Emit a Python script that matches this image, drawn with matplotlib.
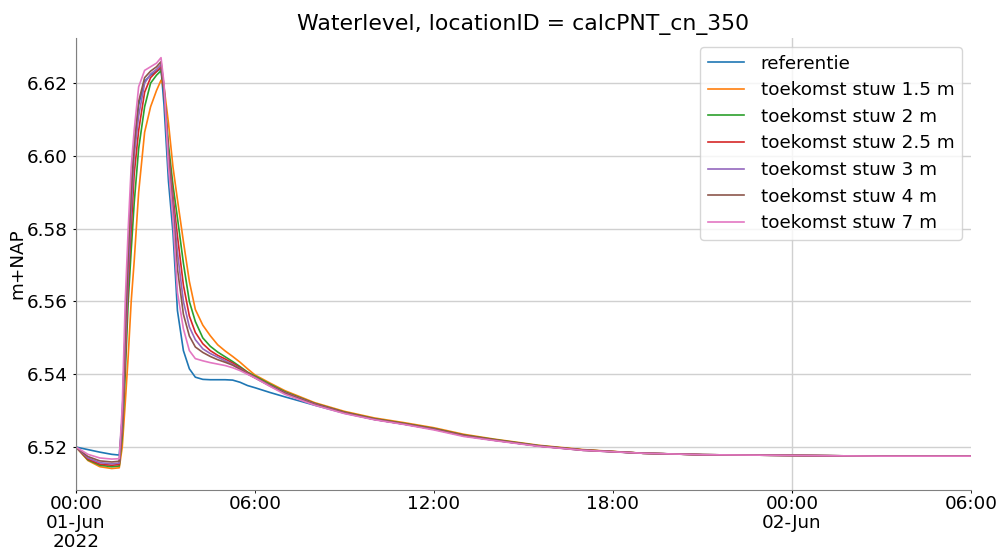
"""
Waterstand op calcPNT_cn_350: referentie vs toekomstige stuwvarianten.
"""
from datetime import datetime, timedelta

import matplotlib
matplotlib.use("Agg")
import matplotlib.pyplot as plt
import matplotlib.dates as mdates


# ============================================================
#  Data (uren sinds 2022-06-01 00:00, waterstand in m+NAP)
# ============================================================

hours = [0, 0.4, 0.8, 1.2, 1.45, 1.55, 1.65, 1.75, 1.85, 1.95, 2.1, 2.3, 2.5, 2.7,
         2.85, 2.95, 3.1, 3.25, 3.4, 3.6, 3.8, 4.0, 4.25, 4.5, 4.75, 5.0, 5.25, 5.5,
         5.75, 6.0, 6.5, 7.0, 8.0, 9.0, 10.0, 11.0, 12.0, 13.0, 14.0, 15.5, 17.0,
         19.0, 21.0, 24.0, 27.0, 30.0]

referentie = [6.5200, 6.5193, 6.5186, 6.5180, 6.5178, 6.5280, 6.5520, 6.5730, 6.5910,
              6.6030, 6.6140, 6.6205, 6.6222, 6.6232, 6.6240, 6.6140, 6.5930, 6.5790,
              6.5575, 6.5465, 6.5415, 6.5392, 6.5386, 6.5385, 6.5385, 6.5385, 6.5384,
              6.5378, 6.5369, 6.5363, 6.5350, 6.5338, 6.5315, 6.5293, 6.5276, 6.5263,
              6.5249, 6.5231, 6.5219, 6.5203, 6.5192, 6.5183, 6.5179, 6.5177, 6.5175,
              6.5175]
stuw_1_5 = [6.5200, 6.5163, 6.5146, 6.5141, 6.5143, 6.5200, 6.5320, 6.5450, 6.5600,
            6.5710, 6.5900, 6.6065, 6.6135, 6.6180, 6.6208, 6.6190, 6.6090, 6.5970,
            6.5880, 6.5765, 6.5655, 6.5578, 6.5535, 6.5506, 6.5481, 6.5464, 6.5449,
            6.5433, 6.5415, 6.5398, 6.5376, 6.5355, 6.5322, 6.5298, 6.5280, 6.5267,
            6.5253, 6.5235, 6.5222, 6.5205, 6.5193, 6.5183, 6.5179, 6.5177, 6.5175,
            6.5175]
stuw_2 = [6.5200, 6.5165, 6.5150, 6.5146, 6.5148, 6.5230, 6.5400, 6.5600, 6.5740,
          6.5870, 6.6020, 6.6135, 6.6200, 6.6222, 6.6234, 6.6180, 6.6030, 6.5920,
          6.5830, 6.5705, 6.5600, 6.5545, 6.5500, 6.5477, 6.5461, 6.5448, 6.5435,
          6.5421, 6.5406, 6.5395, 6.5373, 6.5352, 6.5320, 6.5296, 6.5278, 6.5265,
          6.5251, 6.5233, 6.5221, 6.5204, 6.5192, 6.5183, 6.5179, 6.5177, 6.5175,
          6.5175]
stuw_2_5 = [6.5200, 6.5167, 6.5153, 6.5150, 6.5152, 6.5250, 6.5440, 6.5650, 6.5800,
            6.5950, 6.6070, 6.6175, 6.6215, 6.6232, 6.6245, 6.6180, 6.6010, 6.5890,
            6.5780, 6.5645, 6.5560, 6.5515, 6.5484, 6.5465, 6.5452, 6.5442, 6.5431,
            6.5418, 6.5404, 6.5392, 6.5370, 6.5350, 6.5319, 6.5295, 6.5277, 6.5264,
            6.5250, 6.5232, 6.5220, 6.5203, 6.5192, 6.5183, 6.5179, 6.5177, 6.5175,
            6.5175]
stuw_3 = [6.5200, 6.5170, 6.5157, 6.5154, 6.5156, 6.5260, 6.5470, 6.5680, 6.5850,
          6.6000, 6.6110, 6.6200, 6.6225, 6.6238, 6.6251, 6.6190, 6.6000, 6.5870,
          6.5735, 6.5600, 6.5530, 6.5495, 6.5470, 6.5457, 6.5447, 6.5437, 6.5427,
          6.5415, 6.5402, 6.5391, 6.5369, 6.5349, 6.5318, 6.5294, 6.5276, 6.5263,
          6.5249, 6.5231, 6.5219, 6.5203, 6.5191, 6.5183, 6.5179, 6.5177, 6.5175,
          6.5175]
stuw_4 = [6.5200, 6.5174, 6.5162, 6.5159, 6.5161, 6.5280, 6.5520, 6.5730, 6.5900,
          6.6030, 6.6150, 6.6215, 6.6233, 6.6245, 6.6259, 6.6190, 6.5990, 6.5850,
          6.5690, 6.5565, 6.5505, 6.5475, 6.5460, 6.5449, 6.5440, 6.5433, 6.5425,
          6.5414, 6.5401, 6.5390, 6.5368, 6.5348, 6.5317, 6.5294, 6.5276, 6.5263,
          6.5249, 6.5231, 6.5219, 6.5203, 6.5191, 6.5183, 6.5179, 6.5177, 6.5175,
          6.5175]
stuw_7 = [6.5200, 6.5180, 6.5170, 6.5167, 6.5168, 6.5310, 6.5600, 6.5800, 6.5970,
          6.6070, 6.6190, 6.6235, 6.6245, 6.6255, 6.6270, 6.6200, 6.5970, 6.5830,
          6.5625, 6.5525, 6.5465, 6.5443, 6.5437, 6.5432, 6.5428, 6.5424, 6.5418,
          6.5410, 6.5400, 6.5390, 6.5367, 6.5345, 6.5315, 6.5292, 6.5275, 6.5262,
          6.5247, 6.5229, 6.5218, 6.5202, 6.5191, 6.5183, 6.5179, 6.5177, 6.5175,
          6.5175]

series = [
    ("referentie", referentie),
    ("toekomst stuw 1.5 m", stuw_1_5),
    ("toekomst stuw 2 m", stuw_2),
    ("toekomst stuw 2.5 m", stuw_2_5),
    ("toekomst stuw 3 m", stuw_3),
    ("toekomst stuw 4 m", stuw_4),
    ("toekomst stuw 7 m", stuw_7),
]

start = datetime(2022, 6, 1)
times = [start + timedelta(hours=h) for h in hours]

# ============================================================
#  Plot
# ============================================================

FS = 13.2
fig = plt.figure(figsize=(10.01, 5.52), dpi=100)
ax = fig.add_axes([76 / 1001, 62 / 552, 895 / 1001, 452 / 552])

for label, values in series:
    ax.plot(times, values, lw=1.2, label=label)

ax.set_xlim(start, start + timedelta(hours=30))
ax.set_ylim(6.5082, 6.6324)

# pandas-achtige datumas: hoofdticks per dag, subticks per 6 uur
ax.xaxis.set_major_locator(mdates.DayLocator())
ax.xaxis.set_minor_locator(mdates.HourLocator(byhour=[6, 12, 18]))
ax.xaxis.set_minor_formatter(mdates.DateFormatter("%H:%M"))
fig.canvas.draw()
majors = ax.get_xticks()
ax.set_xticks(majors)
ax.set_xticklabels(["00:00\n01-Jun\n2022", "00:00\n02-Jun"][:len(majors)])
for lbl in ax.get_xticklabels():
    lbl.set_linespacing(1.08)

ax.tick_params(axis="both", which="both", labelsize=FS, length=2.2)
ax.tick_params(axis="x", which="both", pad=1.5)
ax.set_yticks([6.52, 6.54, 6.56, 6.58, 6.60, 6.62])
ax.set_ylabel("m+NAP", fontsize=FS)
ax.yaxis.set_label_coords(-0.055, 0.5)
ax.set_title("Waterlevel, locationID = calcPNT_cn_350", fontsize=15.8)

ax.grid(True, which="major", color="#d0d0d0", lw=1.0)
ax.spines["top"].set_visible(False)
ax.spines["right"].set_visible(False)
for s in ["left", "bottom"]:
    ax.spines[s].set_color("#808080")

ax.legend(loc="upper right", fontsize=FS, labelspacing=0.47,
          handletextpad=0.9, borderaxespad=0.5)

fig.savefig("out.png", dpi=100)
